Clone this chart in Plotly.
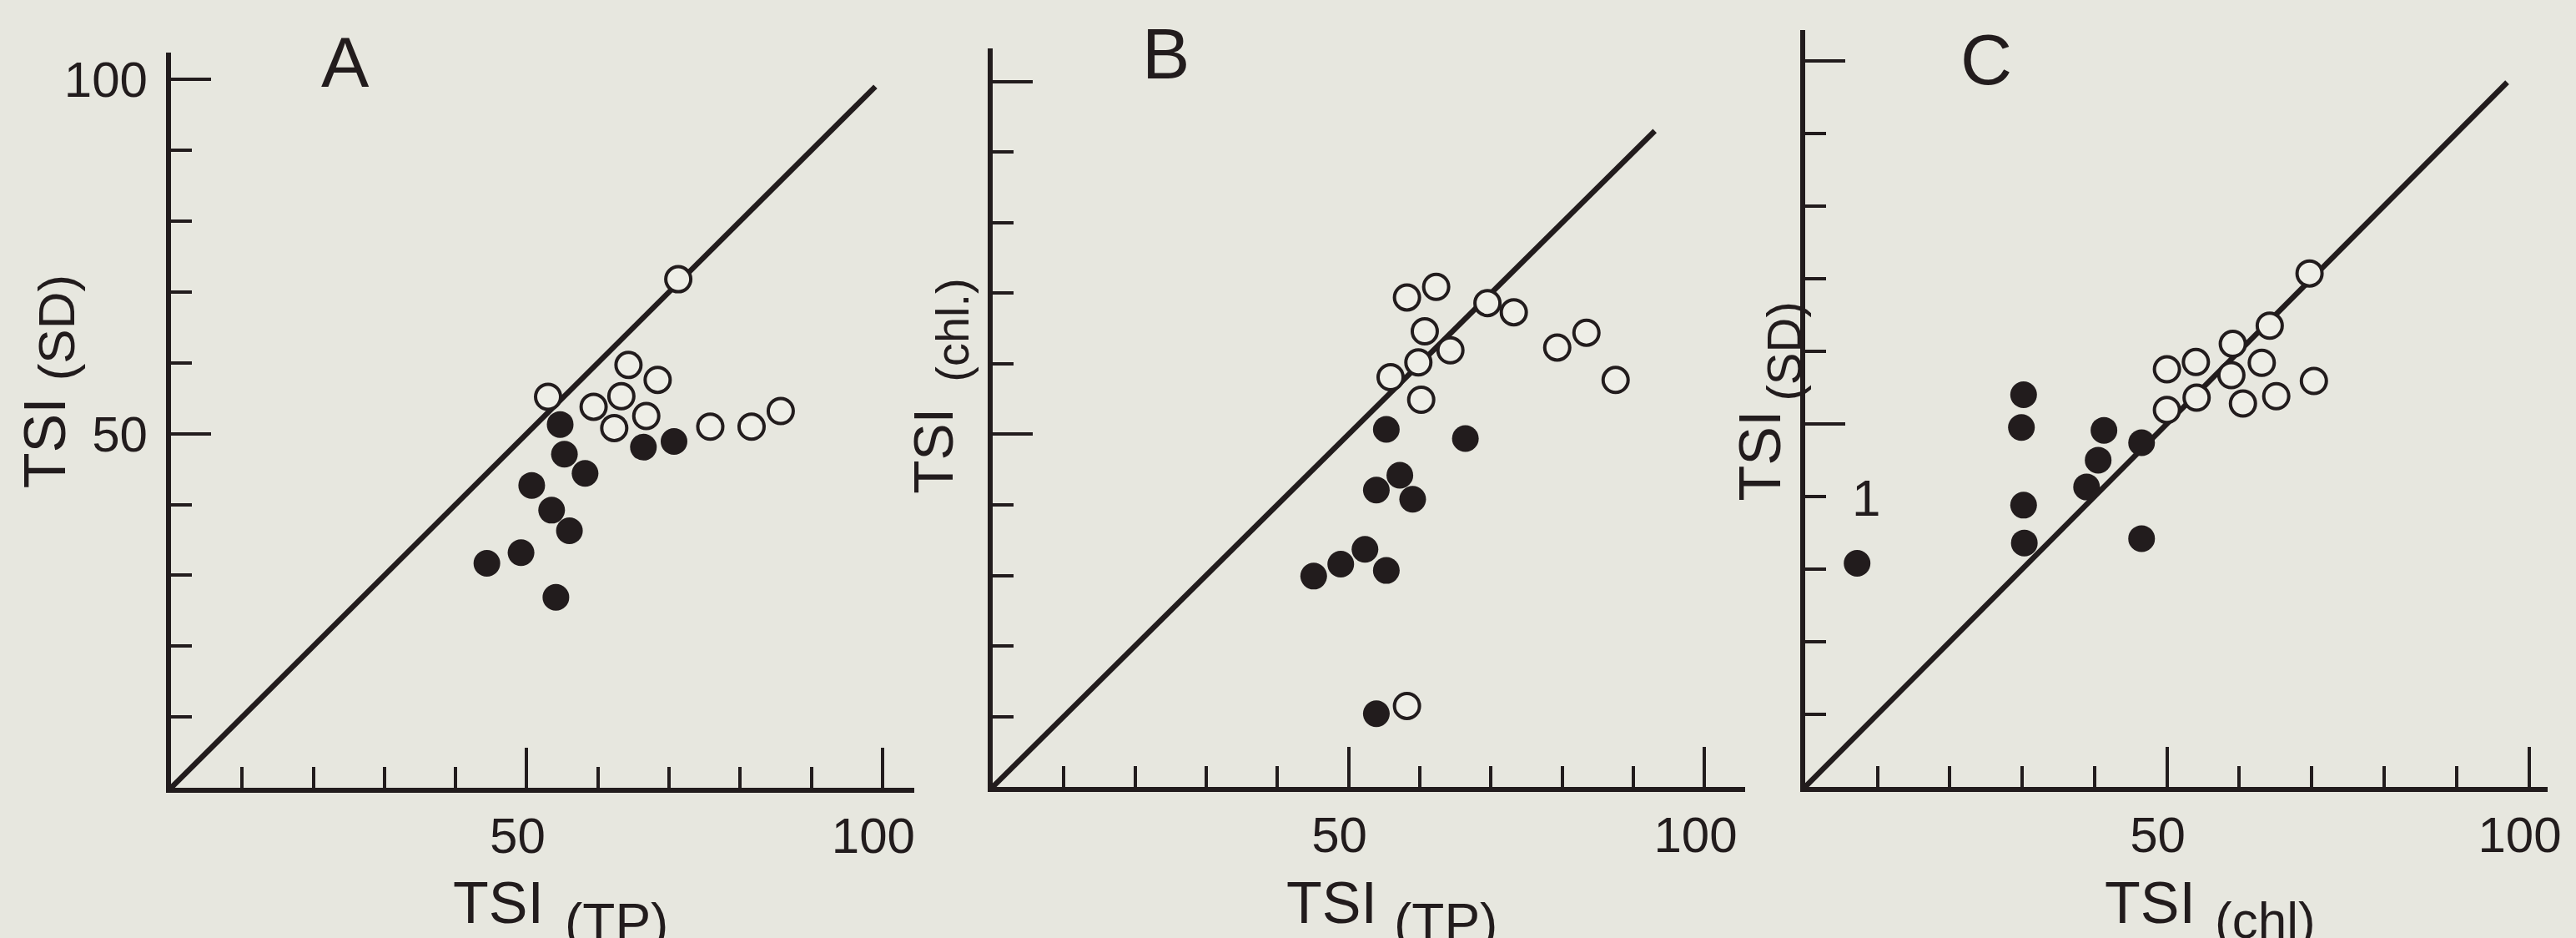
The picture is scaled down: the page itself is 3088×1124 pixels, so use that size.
import plotly.graph_objects as go

# ---------------- data ----------------
# Panel A: TSI(TP) vs TSI(SD)
A_open_x = [71.3, 53.0, 64.3, 68.4, 59.4, 63.3, 62.3, 66.8, 75.8, 81.6, 85.7]
A_open_y = [71.8, 55.2, 59.7, 57.6, 53.8, 55.3, 50.8, 52.5, 51.0, 51.0, 53.2]
A_fill_x = [54.7, 55.3, 58.2, 50.7, 53.5, 56.0, 49.2, 44.4, 54.1, 66.4, 70.7]
A_fill_y = [51.3, 47.1, 44.4, 42.7, 39.2, 36.3, 33.2, 31.7, 26.9, 48.1, 48.9]

# Panel B: TSI(TP) vs TSI(chl.)
B_open_x = [58.2, 62.3, 69.5, 73.2, 60.7, 64.3, 59.8, 55.9, 60.2, 79.3, 83.4, 87.5, 58.2]
B_open_y = [69.4, 70.9, 68.6, 67.3, 64.6, 61.9, 60.2, 58.1, 54.9, 62.3, 64.4, 57.7, 11.5]
B_fill_x = [55.3, 66.4, 57.2, 53.9, 59.0, 52.3, 48.9, 45.1, 55.3, 53.9]
B_fill_y = [50.7, 49.4, 44.2, 42.1, 40.8, 33.7, 31.6, 29.9, 30.7, 10.4]

# Panel C: TSI(chl) vs TSI(SD)
C_open_x = [69.7, 64.2, 59.1, 50.0, 54.0, 58.9, 63.1, 70.3, 50.0, 54.1, 60.5, 65.1]
C_open_y = [70.7, 63.5, 61.0, 57.5, 58.5, 56.7, 58.4, 55.9, 51.9, 53.6, 52.8, 53.8]
C_fill_x = [7.2, 30.2, 29.9, 30.2, 30.3, 41.3, 40.5, 38.9, 46.5, 46.5]
C_fill_y = [30.8, 54.0, 49.5, 38.8, 33.6, 49.1, 45.0, 41.3, 47.4, 34.2]

# 1:1 reference lines (end value of each drawn diagonal)
diag_A = [0, 99.0]
diag_B = [0, 93.0]
diag_C = [0, 97.0]

major_ticks = [50, 100]
major_labels = ["50", "100"]
minor_ticks = [10, 20, 30, 40, 60, 70, 80, 90]

panel_letters = ["A", "B", "C"]
point_label = "1"
point_label_xy = (8.4, 39.8)

# ---------------- style ----------------
W, H = 3088, 1124
BG = "#e7e7df"
INK = "#221c1d"
FONT = "Liberation Sans"


def px(x):
    return x / W


def py(y):
    return 1 - y / H


fig = go.Figure()

panels = [
    ("x", "y", A_open_x, A_open_y, A_fill_x, A_fill_y, diag_A),
    ("x2", "y2", B_open_x, B_open_y, B_fill_x, B_fill_y, diag_B),
    ("x3", "y3", C_open_x, C_open_y, C_fill_x, C_fill_y, diag_C),
]

for xa, ya, ox, oy, fx, fy, dg in panels:
    fig.add_trace(go.Scatter(x=dg, y=dg, mode="lines", xaxis=xa, yaxis=ya,
                             line=dict(color=INK, width=6.5), hoverinfo="skip"))
    fig.add_trace(go.Scatter(x=fx, y=fy, mode="markers", xaxis=xa, yaxis=ya,
                             marker=dict(size=32, color=INK, line=dict(width=0))))
    fig.add_trace(go.Scatter(x=ox, y=oy, mode="markers", xaxis=xa, yaxis=ya,
                             marker=dict(size=30, color="#eeeee7", line=dict(width=4, color=INK))))

# axis geometry (pixel positions of the origin and axis ends)
geo = {
    # name: (x0px, x1px, xmax, ybottom_px, ytop_px, ymax)
    "A": (206, 1102, 104.5, 944, 62, 103.8),
    "B": (1196, 2103, 105.7, 943, 57, 104.7),
    "C": (2175, 3070, 102.6, 943, 35, 104.2),
}

common = dict(
    showline=True, linecolor=INK, linewidth=6,
    ticks="inside", tickcolor=INK, tickwidth=4, ticklen=48,
    tickmode="array", tickvals=major_ticks, ticktext=major_labels,
    minor=dict(ticks="inside", tickmode="array", tickvals=minor_ticks,
               ticklen=25, tickwidth=4, tickcolor=INK, showgrid=False),
    showgrid=False, zeroline=False,
    tickfont=dict(family=FONT, size=60, color=INK),
)

layout = dict(width=W, height=H, margin=dict(l=0, r=0, t=0, b=0),
              paper_bgcolor=BG, plot_bgcolor=BG, showlegend=False)

names = ["", "2", "3"]
for key, n in zip(["A", "B", "C"], names):
    x0, x1, xmax, yb, yt, ymax = geo[key]
    xa = dict(common, domain=[px(x0), px(x1)], range=[0, xmax],
              anchor="y" + n, ticklabelstandoff=0, ticklabelshift=-11)
    ya = dict(common, domain=[py(yb), py(yt)], range=[0, ymax],
              anchor="x" + n, showticklabels=(key == "A"), ticklabelstandoff=10)
    layout["xaxis" + n] = xa
    layout["yaxis" + n] = ya

fig.update_layout(**layout)

ann = []


def text(x, y, s, size, angle=0):
    ann.append(dict(x=px(x), y=py(y), xref="paper", yref="paper", text=s,
                    showarrow=False, textangle=angle, xanchor="center", yanchor="middle",
                    font=dict(family=FONT, size=size, color=INK)))


# panel letters
text(416, 73, panel_letters[0], 86)
text(1405, 63, panel_letters[1], 86)
text(2393, 70, panel_letters[2], 86)

# x axis titles
text(601, 1082, "TSI", 70)
text(743, 1106, "(TP)", 64)
text(1605, 1082, "TSI", 70)
text(1742, 1106, "(TP)", 64)
text(2591, 1082, "TSI", 70)
text(2730, 1102, "(chl)", 62)

# y axis titles (rotated)
text(54, 530, "TSI", 70, -90)
text(68, 392, "(SD)", 62, -90)
text(1124, 540, "TSI", 66, -90)
text(1148, 395, "(chl.)", 56, -90)
text(2120, 546, "TSI", 70, -90)
text(2150, 420, "(SD)", 58, -90)

fig.update_layout(annotations=ann)

# point label "1" in panel C (data coordinates)
fig.add_annotation(x=point_label_xy[0], y=point_label_xy[1], xref="x3", yref="y3",
                   text=point_label, showarrow=False,
                   font=dict(family=FONT, size=62, color=INK))

fig.write_html("out.html")
